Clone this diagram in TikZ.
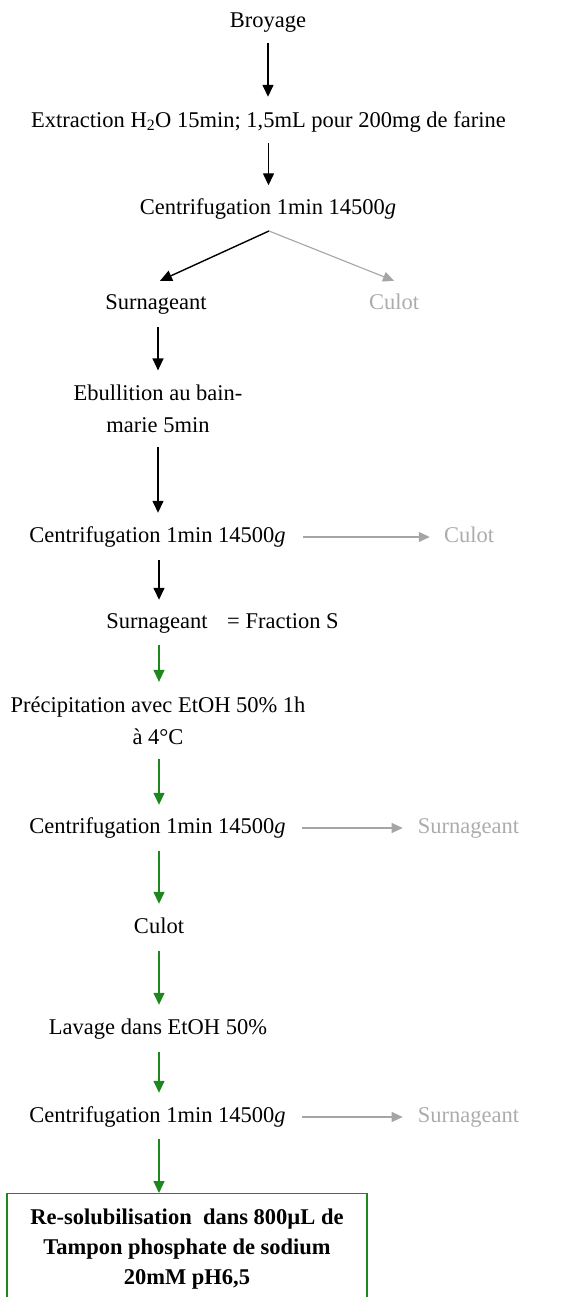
\documentclass[tikz,border=0pt]{standalone}
\usepackage{fontspec}
\setmainfont{Liberation Serif}
\usetikzlibrary{arrows.meta}
\definecolor{grn}{RGB}{30,135,30}
\definecolor{ltext}{RGB}{172,172,172}
\definecolor{larrow}{RGB}{165,165,165}
\begin{document}
\begin{tikzpicture}[x=1pt,y=1pt,
  txt/.style={inner sep=0pt, text height=16pt, text depth=5pt, font=\fontsize{22.5}{32}\selectfont},
  ml/.style={inner sep=0pt, align=center, font=\fontsize{22.5}{32}\selectfont},
  gtext/.style={txt, text=ltext},
  blk/.style={draw=black, line width=1.4pt, -{Triangle[length=12pt,width=11pt]}},
  grnarrow/.style={draw=grn, line width=1.4pt, -{Triangle[length=12pt,width=11pt]}},
  gryarrow/.style={draw=larrow, line width=1.1pt, -{Triangle[length=11pt,width=10pt]}},
  finalbox/.style={draw=grn, line width=1.3pt, inner xsep=0pt, inner ysep=15pt, align=center,
     minimum width=360pt, anchor=north, font=\fontsize{22.5}{30}\selectfont\bfseries}
]
\useasboundingbox (0,0) rectangle (581,-1297);

\node[txt] (br) at (268,-22) {Broyage};
\node[txt] (ex) at (268.5,-122) {Extraction H\textsubscript{2}O 15min; 1,5mL pour 200mg de farine};
\node[txt] (c1) at (268,-209.5) {Centrifugation 1min 14500\textit{g}};
\node[txt] (s1) at (156,-304) {Surnageant};
\node[gtext] (cu1) at (394,-304) {Culot};
\node[ml] (eb) at (158,-409) {Ebullition au bain-\\marie 5min};
\node[txt] (c2) at (157.5,-537) {Centrifugation 1min 14500\textit{g}};
\node[gtext] (cu2) at (469,-537) {Culot};
\node[txt] (s2) at (157,-623) {Surnageant};
\node[txt, anchor=west] (fs) at (227,-623) {= Fraction S};
\node[ml] (pr) at (158,-721) {Précipitation avec EtOH 50\% 1h\\à 4°C};
\node[txt] (c3) at (157.5,-828) {Centrifugation 1min 14500\textit{g}};
\node[gtext] (sn3) at (468.5,-828) {Surnageant};
\node[txt] (cu3) at (159,-928) {Culot};
\node[txt] (lv) at (158,-1029) {Lavage dans EtOH 50\%};
\node[txt] (c4) at (157.5,-1117) {Centrifugation 1min 14500\textit{g}};
\node[gtext] (sn4) at (468.5,-1117) {Surnageant};
\node[finalbox] (bx) at (187,-1193) {Re-solubilisation\ \ dans 800µL de\\Tampon phosphate de sodium\\20mM pH6,5};

\coordinate (sp) at (269,-231);

\draw[blk, shorten <=10.5pt, shorten >=14.5pt] (br.south) -- (br.south |- ex.north);
\draw[blk, shorten <=10.5pt, shorten >=13.5pt] (ex.south) -- (ex.south |- c1.north);
\draw[blk] (sp) -- ([shift={(4,12.5)}]s1.north);
\draw[gryarrow] (sp) -- ([yshift=12.5pt]cu1.north);
\draw[blk, shorten <=12.5pt, shorten >=14.5pt] (eb.north |- s1.south) -- (eb.north);
\draw[blk, shorten <=13.5pt, shorten >=13.5pt] (eb.south) -- (eb.south |- c2.north);
\draw[gryarrow, shorten <=17pt, shorten >=14pt] (c2.east) -- (cu2.west);
\draw[blk, shorten <=12.5pt, shorten >=12.5pt] (cu3.north |- c2.south) -- (cu3.north |- s2.north);
\draw[grnarrow, shorten <=11.5pt, shorten >=15pt] (cu3.north |- s2.south) -- (cu3.north |- pr.north);
\draw[grnarrow, shorten <=13.5pt, shorten >=12.5pt] (cu3.north |- pr.south) -- (cu3.north |- c3.north);
\draw[gryarrow, shorten <=16pt, shorten >=15pt] (c3.east) -- (sn3.west);
\draw[grnarrow, shorten <=12.5pt, shorten >=13.5pt] (cu3.north |- c3.south) -- (cu3.north);
\draw[grnarrow, shorten <=12.5pt, shorten >=13.5pt] (cu3.south) -- (cu3.south |- lv.north);
\draw[grnarrow, shorten <=12.5pt, shorten >=13.5pt] (cu3.south |- lv.south) -- (cu3.south |- c4.north);
\draw[gryarrow, shorten <=16pt, shorten >=15pt] (c4.east) -- (sn4.west);
\draw[grnarrow, shorten <=11.5pt] (cu3.south |- c4.south) -- (cu3.south |- bx.north);
\end{tikzpicture}
\end{document}
